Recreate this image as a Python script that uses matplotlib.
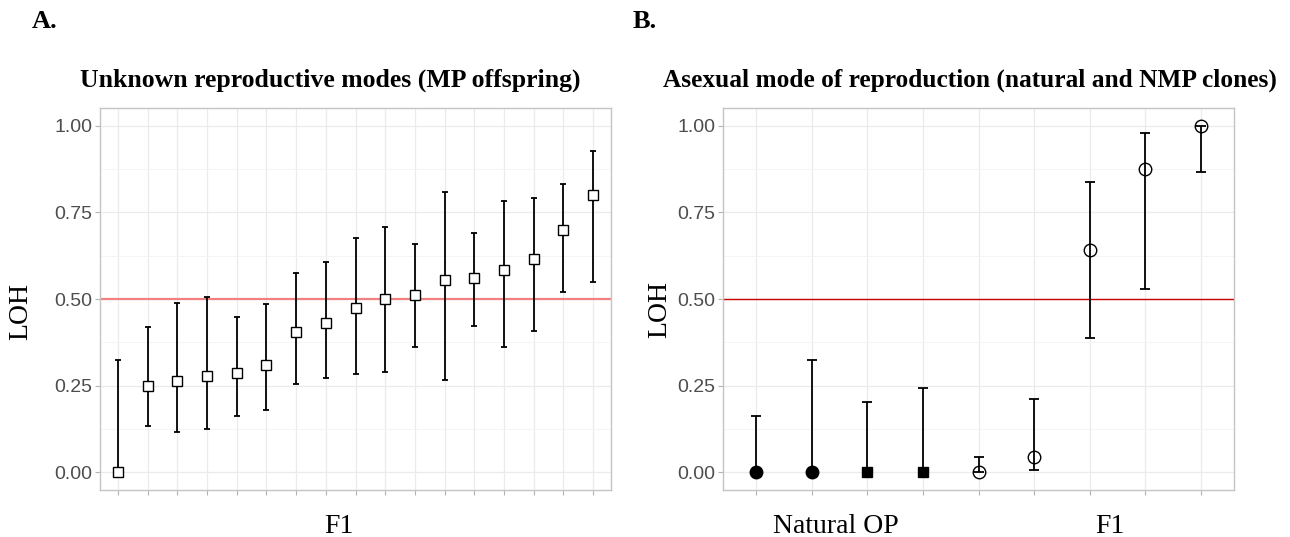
import numpy as np
import matplotlib
matplotlib.use("Agg")
import matplotlib.pyplot as plt
import matplotlib.transforms as mtransforms

# panel A: MP offspring (F1), sorted LOH with intervals
a_loh = [0.0, 0.25, 0.263, 0.277, 0.287, 0.31, 0.405, 0.43, 0.475, 0.50,
         0.513, 0.555, 0.56, 0.585, 0.617, 0.70, 0.80]
a_low = [0.0, 0.132, 0.117, 0.123, 0.162, 0.178, 0.253, 0.273, 0.282, 0.29,
         0.36, 0.265, 0.422, 0.36, 0.408, 0.52, 0.548]
a_up = [0.324, 0.42, 0.487, 0.507, 0.449, 0.485, 0.576, 0.607, 0.675, 0.709,
        0.66, 0.81, 0.692, 0.783, 0.792, 0.832, 0.928]

# panel B: natural OP and NMP clones
b_loh = [0.0, 0.0, 0.0, 0.0, 0.0, 0.043, 0.643, 0.875, 1.0]
b_low = [0.0, 0.0, 0.0, 0.0, 0.0, 0.007, 0.386, 0.529, 0.867]
b_up = [0.161, 0.324, 0.203, 0.242, 0.044, 0.21, 0.837, 0.979, 1.0]
b_marker = ["o", "o", "s", "s", "o", "o", "o", "o", "o"]
b_filled = [True, True, True, True, False, False, False, False, False]

y_ticks = [0.0, 0.25, 0.5, 0.75, 1.0]
y_minor = [0.125, 0.375, 0.625, 0.875]
y_labels = ["0.00", "0.25", "0.50", "0.75", "1.00"]

SERIF = "Liberation Serif"
SANS = "Liberation Sans"

fig = plt.figure(figsize=(12.9, 5.37), dpi=100)
axA = fig.add_axes([100 / 1290, 1 - 490 / 537, 511 / 1290, 382 / 537])
axB = fig.add_axes([723 / 1290, 1 - 490 / 537, 511 / 1290, 382 / 537])


def style(ax, n):
    ax.set_xlim(0.4, n + 0.6)
    ax.set_ylim(-0.052, 1.052)
    ax.set_xticks(np.arange(1, n + 1))
    ax.set_xticklabels([])
    ax.set_yticks(y_ticks)
    ax.set_yticks(y_minor, minor=True)
    ax.set_yticklabels(y_labels, family=SANS, fontsize=14, color="#4D4D4D")
    ax.grid(which="major", color="#EBEBEB", lw=0.9)
    ax.grid(which="minor", axis="y", color="#F3F3F3", lw=0.6)
    ax.set_axisbelow(True)
    ax.tick_params(which="major", length=3.5, width=0.8, color="#B3B3B3", pad=2)
    ax.tick_params(which="minor", length=0)
    for s in ax.spines.values():
        s.set_color("#C4C4C4")
        s.set_linewidth(1.0)


def xlabel(ax, x, s):
    tr = mtransforms.blended_transform_factory(ax.transData, fig.transFigure)
    ax.text(x, 1 - 533 / 537, s, family=SERIF, fontsize=20, ha="center",
            va="baseline", transform=tr)


# panel A
style(axA, len(a_loh))
xa = np.arange(1, len(a_loh) + 1)
axA.axhline(0.5, color="#F28080", lw=1.6, zorder=1)
ya = np.array(a_loh)
axA.errorbar(xa, ya, yerr=[ya - np.array(a_low), np.array(a_up) - ya],
             fmt="none", ecolor="black", elinewidth=1.3, capsize=2.3,
             capthick=1.3, zorder=2)
axA.plot(xa, ya, "s", ms=7.5, mfc="white", mec="black", mew=1.0, ls="none",
         zorder=3)
xlabel(axA, 8.43, "F1")

# panel B
style(axB, len(b_loh))
xb = np.arange(1, len(b_loh) + 1)
axB.axhline(0.5, color="#CC0000", lw=1.0, zorder=1)
yb = np.array(b_loh)
axB.errorbar(xb, yb, yerr=[yb - np.array(b_low), np.array(b_up) - yb],
             fmt="none", ecolor="black", elinewidth=1.3, capsize=3.8,
             capthick=1.3, zorder=2)
for x, y, m, f in zip(xb, b_loh, b_marker, b_filled):
    ms = 9 if m == "o" else 7.5
    axB.plot(x, y, m, ms=ms, mfc="black" if f else "none", mec="black",
             mew=1.0, zorder=3)
xlabel(axB, 2.44, "Natural OP")
xlabel(axB, 7.37, "F1")

# y titles
fig.text(21 / 1290, 1 - 312 / 537, "LOH", family=SERIF, fontsize=20,
         rotation=90, ha="center", va="center")
fig.text(660 / 1290, 1 - 310 / 537, "LOH", family=SERIF, fontsize=20,
         rotation=90, ha="center", va="center")

# titles and panel letters
fig.text(330 / 1290, 1 - 87 / 537, "Unknown reproductive modes (MP offspring)",
         family=SERIF, fontsize=18.5, weight="bold", ha="center", va="baseline")
fig.text(970 / 1290, 1 - 87 / 537,
         "Asexual mode of reproduction (natural and NMP clones)",
         family=SERIF, fontsize=18.3, weight="bold", ha="center", va="baseline")
fig.text(32 / 1290, 1 - 28 / 537, "A.", family=SERIF, fontsize=19,
         weight="bold", ha="left", va="baseline")
fig.text(633 / 1290, 1 - 28 / 537, "B.", family=SERIF, fontsize=19,
         weight="bold", ha="left", va="baseline")

fig.savefig("out.png", dpi=100, facecolor="white")
